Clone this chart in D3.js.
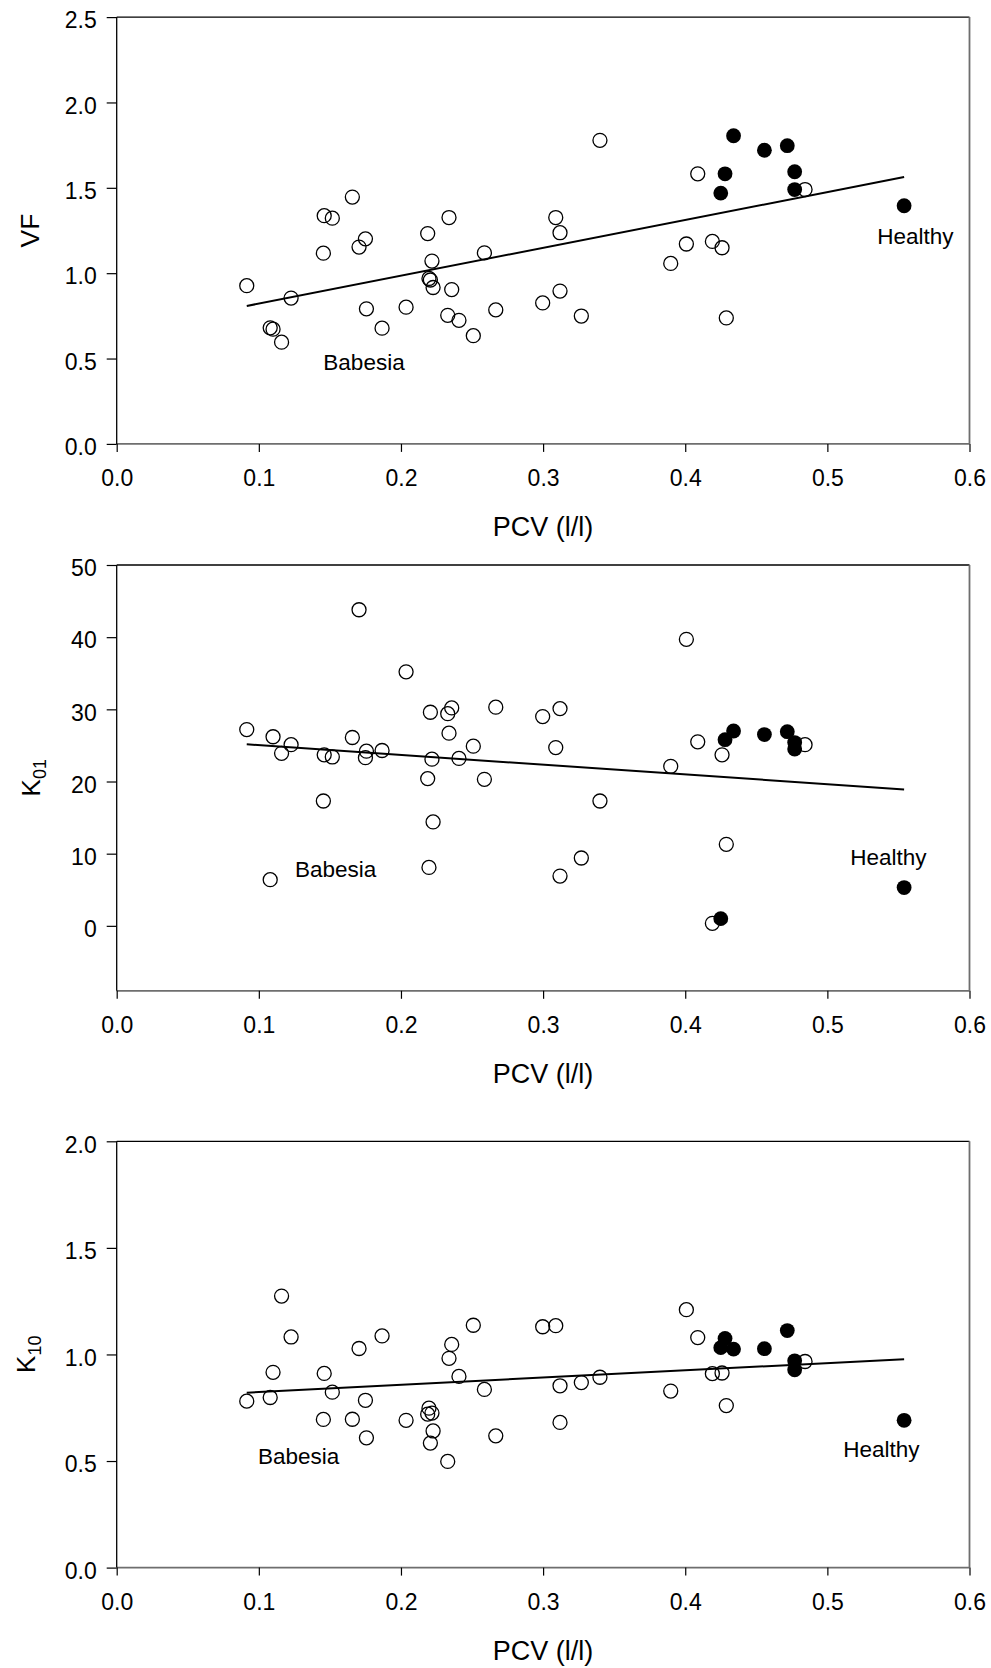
<!DOCTYPE html>
<html>
<head>
<meta charset="utf-8">
<script src="https://cdn.jsdelivr.net/npm/d3@7"></script>
<style>
  html, body { margin: 0; padding: 0; background: #fff; }
  svg { display: block; font-family: Arial, "Liberation Sans", Helvetica, sans-serif; }
</style>
</head>
<body>
<svg id="chart" width="991" height="1668"></svg>
<script>
// PCV (l/l) of each animal; the same animals appear in all three panels
const pcvBabesia = [0.0915, 0.108, 0.110, 0.116, 0.1227, 0.1454, 0.146, 0.1517, 0.1658, 0.1705,
  0.175, 0.1757, 0.1867, 0.2036, 0.2188, 0.2197, 0.2207, 0.2218, 0.2226, 0.2329,
  0.2338, 0.2357, 0.2408, 0.2509, 0.2587, 0.2667, 0.2997, 0.3089, 0.3119, 0.3119,
  0.3269, 0.340, 0.3898, 0.4008, 0.4088, 0.4191, 0.4259, 0.4289, 0.4843];
const pcvHealthy = [0.425, 0.428, 0.434, 0.4557, 0.4718, 0.477, 0.477, 0.554];

// VF
const vfBabesia = [0.927, 0.680, 0.672, 0.596, 0.854, 1.117, 1.337, 1.322, 1.446, 1.153,
  1.201, 0.791, 0.678, 0.801, 1.232, 0.969, 0.960, 1.071, 0.916, 0.753,
  1.326, 0.904, 0.724, 0.634, 1.119, 0.785, 0.826, 1.326, 1.237, 0.895,
  0.749, 1.778, 1.057, 1.171, 1.582, 1.186, 1.149, 0.738, 1.490];
const vfHealthy = [1.469, 1.582, 1.805, 1.720, 1.747, 1.594, 1.490, 1.395];

// K01
const k01Babesia = [27.2, 6.4, 26.2, 23.9, 25.1, 17.3, 23.7, 23.4, 26.1, 43.8,
  23.3, 24.2, 24.3, 35.2, 20.4, 8.1, 29.6, 23.1, 14.4, 29.4,
  26.7, 30.2, 23.2, 24.9, 20.3, 30.3, 29.0, 24.7, 30.1, 6.9,
  9.4, 17.3, 22.1, 39.7, 25.5, 0.35, 23.7, 11.3, 25.1];
const k01Healthy = [1.0, 25.8, 27.0, 26.5, 26.9, 25.4, 24.5, 5.3];

// K10
const k10Babesia = [0.781, 0.798, 0.916, 1.274, 1.082, 0.695, 0.911, 0.823, 0.696, 1.028,
  0.785, 0.609, 1.087, 0.691, 0.720, 0.748, 0.584, 0.725, 0.641, 0.498,
  0.982, 1.047, 0.897, 1.137, 0.836, 0.618, 1.130, 1.135, 0.853, 0.681,
  0.868, 0.893, 0.828, 1.210, 1.079, 0.910, 0.913, 0.760, 0.967];
const k10Healthy = [1.032, 1.075, 1.025, 1.027, 1.112, 0.970, 0.928, 0.691];

// Axis ticks
const xTicks = [0, 0.1, 0.2, 0.3, 0.4, 0.5, 0.6];
const vfTicks = [0, 0.5, 1.0, 1.5, 2.0, 2.5];
const k01Ticks = [0, 10, 20, 30, 40, 50];
const k10Ticks = [0, 0.5, 1.0, 1.5, 2.0];

// Group labels: [text, PCV, y-value at baseline]
const vfLabels = [["Babesia", 0.174, 0.433], ["Healthy", 0.562, 1.171]];
const k01Labels = [["Babesia", 0.154, 6.79], ["Healthy", 0.543, 8.38]];
const k10Labels = [["Babesia", 0.128, 0.486], ["Healthy", 0.538, 0.519]];

const panels = [
  { title: "VF", sub: "", babesia: vfBabesia, healthy: vfHealthy, domain: [0, 2.5], ticks: vfTicks,
    fmt: d3.format(".1f"), labels: vfLabels, top: 17.1, bottom: 443.9, titleX: 39 },
  { title: "K", sub: "01", babesia: k01Babesia, healthy: k01Healthy, domain: [-9, 50], ticks: k01Ticks,
    fmt: d3.format("d"), labels: k01Labels, top: 565, bottom: 990.8, titleX: 40 },
  { title: "K", sub: "10", babesia: k10Babesia, healthy: k10Healthy, domain: [0, 2.0], ticks: k10Ticks,
    fmt: d3.format(".1f"), labels: k10Labels, top: 1141.3, bottom: 1567.6, titleX: 35 }
];

const left = 116.7, right = 969.5;
const svg = d3.select("#chart");
const x = d3.scaleLinear().domain([0, 0.6]).range([left, right]);

// ordinary least squares over every animal in the panel
function fit(xs, ys) {
  const mx = d3.mean(xs), my = d3.mean(ys);
  let sxy = 0, sxx = 0;
  xs.forEach((v, i) => { sxy += (v - mx) * (ys[i] - my); sxx += (v - mx) * (v - mx); });
  const b = sxy / sxx;
  return { a: my - b * mx, b };
}

panels.forEach(p => {
  const y = d3.scaleLinear().domain(p.domain).range([p.bottom, p.top]);
  const g = svg.append("g");

  // frame
  g.append("line").attr("x1", left).attr("x2", right).attr("y1", p.top).attr("y2", p.top)
    .attr("stroke", "#000").attr("stroke-width", 1.3);
  g.append("line").attr("x1", right).attr("x2", right).attr("y1", p.top).attr("y2", p.bottom)
    .attr("stroke", "#6e6e6e").attr("stroke-width", 1.8);

  // axes
  const xAxis = g.append("g").attr("transform", `translate(0,${p.bottom})`)
    .call(d3.axisBottom(x).tickValues(xTicks).tickFormat(d3.format(".1f")).tickSize(8).tickPadding(18));
  const yAxis = g.append("g").attr("transform", `translate(${left},0)`)
    .call(d3.axisLeft(y).tickValues(p.ticks).tickFormat(p.fmt).tickSize(10).tickPadding(10));
  xAxis.select(".domain").attr("stroke", "#6e6e6e").attr("stroke-width", 1.8)
    .attr("d", `M${left},0H${right}`);
  yAxis.select(".domain").attr("stroke", "#000").attr("stroke-width", 1.3)
    .attr("d", `M0,${p.top}V${p.bottom}`);
  [xAxis, yAxis].forEach(a => {
    a.selectAll(".tick line").attr("stroke", "#000").attr("stroke-width", 1.2);
    a.selectAll(".tick text").attr("fill", "#000").style("font-size", "23px")
      .style("font-family", "Arial, 'Liberation Sans', Helvetica, sans-serif");
  });
  yAxis.selectAll(".tick text").attr("dy", "0.47em");

  // axis titles
  g.append("text").attr("x", (left + right) / 2).attr("y", p.bottom + 92)
    .attr("text-anchor", "middle").style("font-size", "27px").text("PCV (l/l)");
  const yt = g.append("text")
    .attr("transform", `translate(${p.titleX},${(p.top + p.bottom) / 2}) rotate(-90)`)
    .attr("text-anchor", "middle").style("font-size", "26.5px");
  yt.append("tspan").text(p.title);
  if (p.sub) yt.append("tspan").attr("dy", 6).style("font-size", "18px").text(p.sub);

  // regression line over the observed PCV range
  const allX = pcvBabesia.concat(pcvHealthy);
  const allY = p.babesia.concat(p.healthy);
  const f = fit(allX, allY);
  const ext = d3.extent(allX);
  g.append("path")
    .datum(ext.map(v => [v, f.a + f.b * v]))
    .attr("d", d3.line().x(d => x(d[0])).y(d => y(d[1])))
    .attr("fill", "none").attr("stroke", "#000").attr("stroke-width", 2);

  // Babesia-infected dogs: open circles
  g.append("g").selectAll("circle").data(p.babesia).join("circle")
    .attr("cx", (d, i) => x(pcvBabesia[i])).attr("cy", d => y(d)).attr("r", 7)
    .attr("fill", "none").attr("stroke", "#000").attr("stroke-width", 1.3);

  // healthy dogs: filled circles
  g.append("g").selectAll("circle").data(p.healthy).join("circle")
    .attr("cx", (d, i) => x(pcvHealthy[i])).attr("cy", d => y(d)).attr("r", 7.4)
    .attr("fill", "#000");

  // group labels
  g.append("g").selectAll("text").data(p.labels).join("text")
    .attr("x", d => x(d[1])).attr("y", d => y(d[2]))
    .attr("text-anchor", "middle").style("font-size", "22.5px").text(d => d[0]);
});
</script>
</body>
</html>
